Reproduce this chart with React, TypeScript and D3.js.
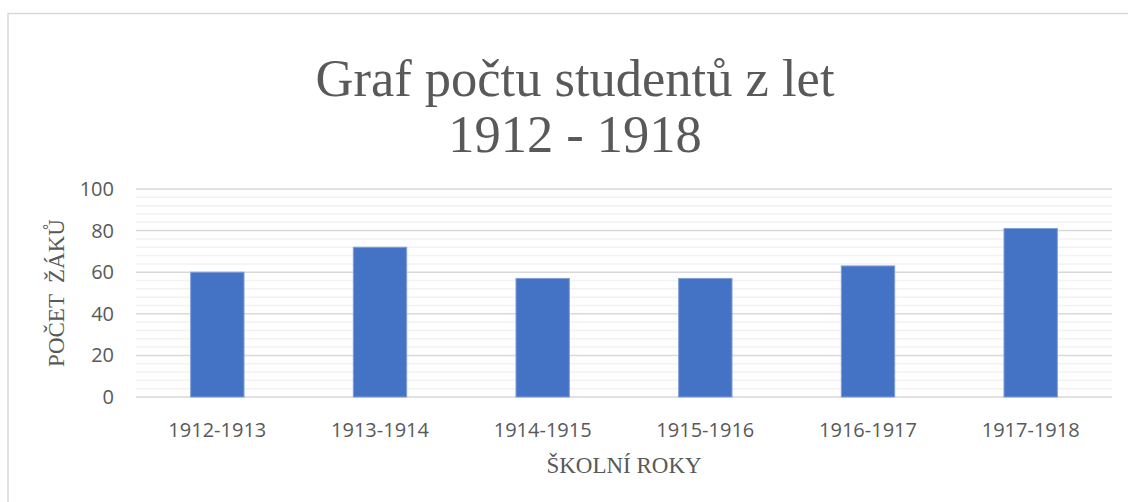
import React from "react";
import * as d3 from "d3";

const years = ["1912-1913", "1913-1914", "1914-1915", "1915-1916", "1916-1917", "1917-1918"];
const students = [60, 72, 57, 57, 63, 81];
const majorTicks = [0, 20, 40, 60, 80, 100];
const minorTicks = d3.range(0, 101, 4);

const W = 1128;
const H = 502;
const margin = { top: 189, right: 16, bottom: 105, left: 136 };

const App: React.FC = () => {
  const x = d3
    .scaleBand()
    .domain(years)
    .range([margin.left, W - margin.right]);
  const y = d3
    .scaleLinear()
    .domain([0, 100])
    .range([H - margin.bottom, margin.top]);

  const barW = x.bandwidth() * 0.328;
  const grey = "#595959";
  const plotCx = (margin.left + W - margin.right) / 2;

  return (
    <svg
      width={W}
      height={H}
      style={{ position: "absolute", left: 0, top: 0, background: "#fff" }}
    >
      <rect x={8} y={13.5} width={W + 20} height={H + 20} fill="#fff" stroke="#d9d9d9" strokeWidth={1.5} />

      <g fontFamily="'Liberation Serif', 'Times New Roman', serif" fill={grey} textAnchor="middle" fontSize={52.5}>
        <text x={575} y={96}>Graf počtu studentů z let</text>
        <text x={575} y={152}>1912 - 1918</text>
      </g>

      {/* minor grid */}
      {minorTicks
        .filter((t) => !majorTicks.includes(t))
        .map((t) => (
          <line
            key={"m" + t}
            x1={margin.left}
            x2={W - margin.right}
            y1={y(t)}
            y2={y(t)}
            stroke="#f2f2f2"
            strokeWidth={1.5}
          />
        ))}
      {/* major grid */}
      {majorTicks.map((t) => (
        <line
          key={"M" + t}
          x1={margin.left}
          x2={W - margin.right}
          y1={y(t)}
          y2={y(t)}
          stroke="#d9d9d9"
          strokeWidth={1.5}
        />
      ))}

      {years.map((yr, i) => (
        <rect
          key={yr}
          x={(x(yr) ?? 0) + (x.bandwidth() - barW) / 2}
          y={y(students[i])}
          width={barW}
          height={y(0) - y(students[i])}
          fill="#4472c4"
          stroke="#7f9fd8"
          strokeWidth={1}
        />
      ))}

      <g fontFamily="'Open Sans', sans-serif" fontSize={20} fill={grey}>
        {majorTicks.map((t) => (
          <text key={t} x={114} y={y(t)} dy="0.35em" textAnchor="end">
            {t}
          </text>
        ))}
        {years.map((yr) => (
          <text key={yr} x={(x(yr) ?? 0) + x.bandwidth() / 2} y={437} textAnchor="middle">
            {yr}
          </text>
        ))}
      </g>

      <g fontFamily="'Liberation Serif', 'Times New Roman', serif" fontSize={23} fill={grey}>
        <text x={plotCx} y={473} textAnchor="middle">
          ŠKOLNÍ ROKY
        </text>
        <text
          transform={`translate(64, ${(y(0) + y(100)) / 2}) rotate(-90)`}
          textAnchor="middle"
          style={{ whiteSpace: "pre" }}
        >
          {"POČET  ŽÁKŮ"}
        </text>
      </g>
    </svg>
  );
};

export default App;
